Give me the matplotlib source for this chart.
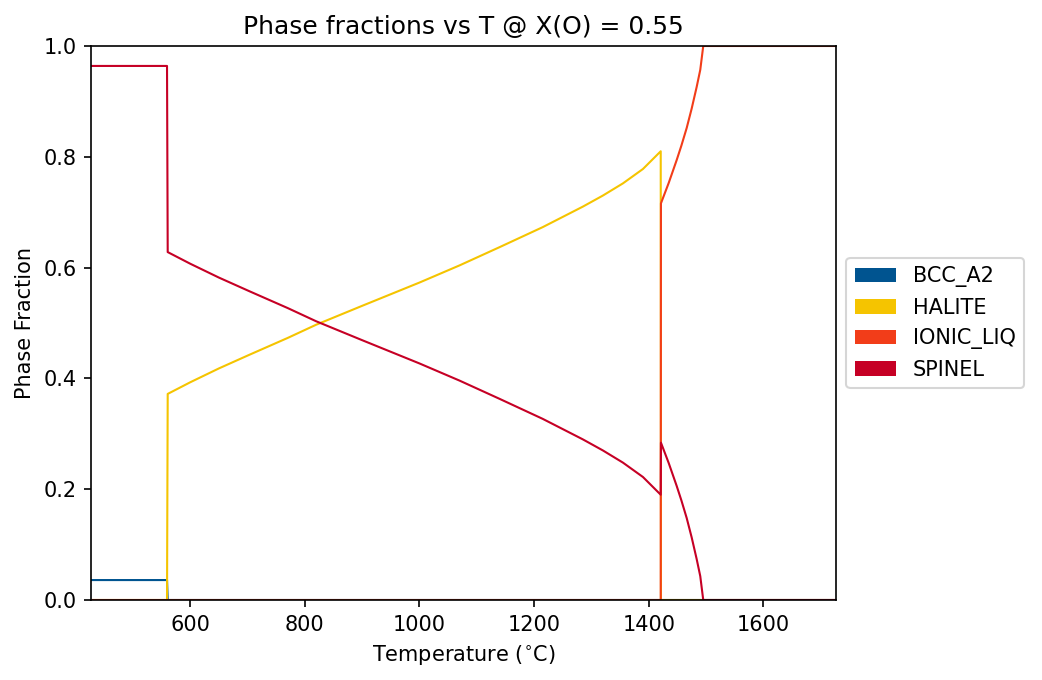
import matplotlib
matplotlib.use("Agg")
import matplotlib.pyplot as plt
from matplotlib.patches import Patch

phases = ["BCC_A2", "HALITE", "IONIC_LIQ", "SPINEL"]
colors = ["#005490", "#f5c400", "#f23d19", "#c60025"]

t_bcc = [426.85, 559.5, 560.7, 1726.85]
f_bcc = [0.036, 0.036, 0.0, 0.0]

t_halite = [426.85, 559.5, 560.7, 600, 650, 704, 770, 820, 900, 1000, 1070, 1140,
            1215, 1285, 1320, 1355, 1390, 1421.0, 1421.4, 1726.85]
f_halite = [0.0, 0.0, 0.372, 0.393, 0.418, 0.443, 0.473, 0.497, 0.531, 0.573,
            0.604, 0.637, 0.673, 0.710, 0.730, 0.752, 0.778, 0.810, 0.0, 0.0]

t_liq = [426.85, 1421.0, 1421.4, 1435, 1448.8, 1457, 1466.3, 1475, 1483.7,
         1490, 1495.2, 1726.85]
f_liq = [0.0, 0.0, 0.716, 0.753, 0.794, 0.820, 0.852, 0.887, 0.926, 0.957,
         1.0, 1.0]

t_spinel = [426.85, 559.5, 560.7, 600, 650, 704, 770, 820, 900, 1000, 1070, 1140,
            1215, 1285, 1320, 1355, 1390, 1421.0, 1421.4, 1435, 1448.8, 1457,
            1466.3, 1475, 1483.7, 1490, 1495.2, 1726.85]
f_spinel = [0.964, 0.964, 0.628, 0.607, 0.582, 0.557, 0.527, 0.503, 0.469,
            0.427, 0.396, 0.363, 0.327, 0.290, 0.270, 0.248, 0.222, 0.190,
            0.284, 0.247, 0.206, 0.180, 0.148, 0.113, 0.074, 0.043, 0.0, 0.0]

series = [(t_bcc, f_bcc), (t_halite, f_halite), (t_liq, f_liq), (t_spinel, f_spinel)]

fig = plt.figure(figsize=(1042/150, 680/150), dpi=150)
ax = fig.add_axes([91/1042, 1 - 600/680, (836-91)/1042, (600-46)/680])

for (t, f), c in zip(series, colors):
    ax.plot(t, f, color=c, lw=1.0)

ax.set_xlim(426.85, 1726.85)
ax.set_ylim(0, 1)
ax.set_xlabel("Temperature ($^{\\circ}$C)")
ax.set_ylabel("Phase Fraction")
ax.set_title("Phase fractions vs T @ X(O) = 0.55")

handles = [Patch(facecolor=c, label=p) for p, c in zip(phases, colors)]
ax.legend(handles=handles, loc="center left", bbox_to_anchor=(1.0, 0.5))

fig.savefig("out.png", dpi=150)
